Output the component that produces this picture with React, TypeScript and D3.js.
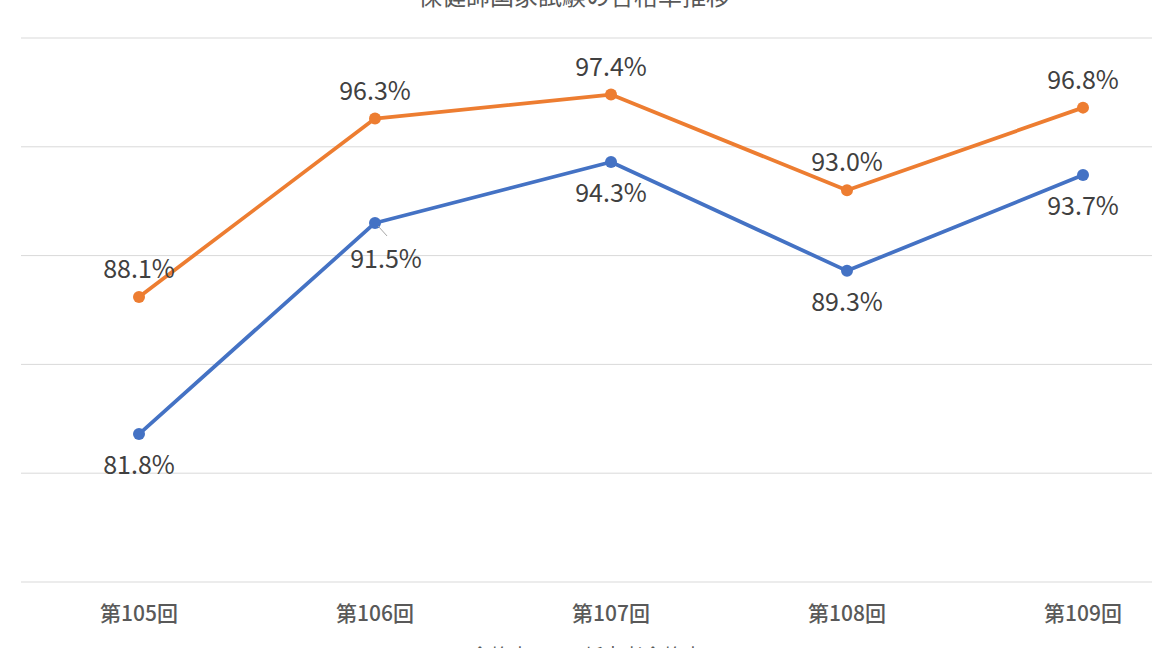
import React from "react";
import * as d3 from "d3";

const categories = ["第105回", "第106回", "第107回", "第108回", "第109回"];
const passRate = [81.8, 91.5, 94.3, 89.3, 93.7];
const newGradRate = [88.1, 96.3, 97.4, 93.0, 96.8];
const yTicks = [75, 80, 85, 90, 95, 100];
const title = "保健師国家試験の合格率推移";
const seriesNames = ["合格率", "新卒者合格率"];

const WIDTH = 1152;
const HEIGHT = 648;
const FONT = "'Noto Sans CJK JP', 'Noto Sans', sans-serif";
const BLUE = "#4472c4";
const ORANGE = "#ed7d31";

export default function App() {
  const x = d3.scaleBand<string>().domain(categories).range([21, 1201]).padding(0);
  const y = d3.scaleLinear().domain([75, 100]).range([582, 38]);
  const cx = (c: string) => (x(c) ?? 0) + x.bandwidth() / 2;

  const line = d3
    .line<number>()
    .x((_, i) => cx(categories[i]))
    .y((d) => y(d));

  const series = [
    { name: seriesNames[0], values: passRate, color: BLUE, dy: 29 },
    { name: seriesNames[1], values: newGradRate, color: ORANGE, dy: -30 },
  ];

  return (
    <div style={{ position: "fixed", left: 0, top: 0 }}>
      <svg width={WIDTH} height={HEIGHT} style={{ display: "block", background: "#fff" }}>
        <text
          x={574}
          y={5}
          textAnchor="middle"
          fontFamily={FONT}
          fontSize={24}
          fill="#595959"
        >
          {title}
        </text>

        {yTicks.map((t) => (
          <line key={t} x1={21} x2={1201} y1={y(t)} y2={y(t)} stroke="#d9d9d9" strokeWidth={1} />
        ))}

        {categories.map((c) => (
          <text
            key={c}
            x={cx(c)}
            y={612}
            textAnchor="middle"
            dominantBaseline="central"
            fontFamily={FONT}
            fontSize={21}
            fontWeight={500}
            fill="#595959"
          >
            {c}
          </text>
        ))}

        {series.map((s) => (
          <g key={s.name}>
            <path d={line(s.values) ?? ""} fill="none" stroke={s.color} strokeWidth={3.75} strokeLinejoin="round" />
            {s.values.map((v, i) => (
              <circle key={i} cx={cx(categories[i])} cy={y(v)} r={6} fill={s.color} />
            ))}
          </g>
        ))}

        {/* leader line for the shifted 91.5% label */}
        <line
          x1={cx(categories[1]) + 3}
          y1={y(passRate[1]) + 3}
          x2={cx(categories[1]) + 12}
          y2={y(passRate[1]) + 13}
          stroke="#a6a6a6"
          strokeWidth={1}
        />

        {series.map((s) =>
          s.values.map((v, i) => {
            const shifted = s.name === seriesNames[0] && i === 1;
            return (
              <text
                key={s.name + i}
                x={cx(categories[i]) + (shifted ? 11 : 0)}
                y={y(v) + s.dy + (shifted ? 5 : 0)}
                textAnchor="middle"
                dominantBaseline="central"
                fontFamily={FONT}
                fontSize={25}
                fill="#404040"
              >
                {v.toFixed(1)}%
              </text>
            );
          })
        )}

        {/* legend, mostly below the visible edge */}
        {series.map((s, i) => {
          const lx = i === 0 ? 432 : 545;
          return (
            <g key={"lg" + s.name}>
              <line x1={lx} x2={lx + 30} y1={655} y2={655} stroke={s.color} strokeWidth={3.5} />
              <circle cx={lx + 15} cy={655} r={5} fill={s.color} />
              <text
                x={lx + 38}
                y={655}
                dominantBaseline="central"
                fontFamily={FONT}
                fontSize={20}
                fill="#595959"
              >
                {s.name}
              </text>
            </g>
          );
        })}
      </svg>
    </div>
  );
}
